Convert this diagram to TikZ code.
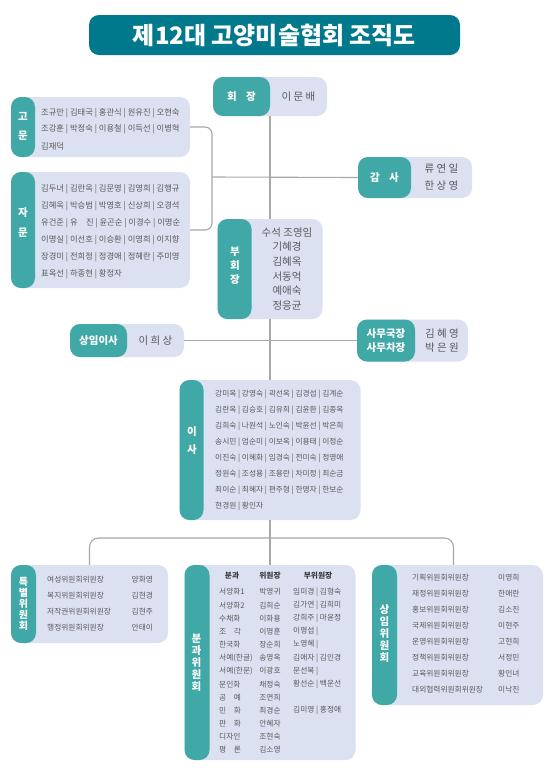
\documentclass[tikz,border=0pt]{standalone}
\usepackage{fontspec}
\setmainfont{Noto Sans CJK KR}
\usetikzlibrary{positioning}

\definecolor{titleteal}{HTML}{00798C}
\definecolor{tabteal}{HTML}{40A8A6}
\definecolor{panelblue}{HTML}{DCE1F2}
\definecolor{linegray}{HTML}{A8A8A8}
\definecolor{namegray}{HTML}{5A5A5A}
\definecolor{headgray}{HTML}{3A3A3A}

\tikzset{
  panel/.style n args={3}{fill=panelblue, rounded corners=10pt, inner sep=0pt,
    minimum width=#1, minimum height=#2,
    path picture={\fill[tabteal] (path picture bounding box.north west)
      rectangle ([xshift=#3]path picture bounding box.south west);}},
  tabtext/.style={text=white, font=\fontsize{10.5}{12}\selectfont\bfseries, align=center, inner sep=0pt},
  bigname/.style={text=namegray, font=\fontsize{10.5}{14}\selectfont, align=center, inner sep=0pt},
  list/.style={text=namegray, font=\fontsize{8.3}{9}\selectfont, anchor=west, inner sep=0pt},
  small/.style={text=namegray, font=\fontsize{7.7}{9}\selectfont, anchor=west, inner sep=0pt},
  link/.style={draw=linegray, line width=1.1pt}
}

\begin{document}
\begin{tikzpicture}[x=1pt, y=-1pt]
\useasboundingbox[fill=white] (0,0) rectangle (555,772);

\node[fill=titleteal, rounded corners=10pt, minimum width=371pt, minimum height=40pt,
  text=white, font=\fontsize{24}{26}\selectfont\bfseries] (title) at (274.5,35) {제12대 고양미술협회 조직도};

% top offices
\node[panel={114pt}{39pt}{57pt}] (hoejang) at (270,96.5) {};
\node[tabtext] at (241.5,96.5) {회\hspace{.9em}장};
\node[bigname] at (298.5,96.5) {이 문 배};

\node[panel={114pt}{41pt}{53pt}] (gamsa) at (415,177.5) {};
\node[tabtext] at (384.5,177.5) {감\hspace{.9em}사};
\node[bigname, font=\fontsize{10.5}{17}\selectfont] at (441.5,177.5) {류 연 일\\한 상 영};

\node[panel={179pt}{60pt}{24pt}] (gomun) at (100.5,127) {};
\node[tabtext, font=\fontsize{10.5}{19}\selectfont\bfseries] at (23,126.5) {고\\문};
\foreach \row [count=\i] in {조규만 | 김태국 | 홍관식 | 원유진 | 오현숙,
    조강훈 | 박정숙 | 이용철 | 이득선 | 이병혁, 김재덕}
  \node[list] at (41,{113+16.5*(\i-1)}) {\row};

\node[panel={179pt}{116pt}{24pt}] (jamun) at (100.5,230) {};
\node[tabtext, font=\fontsize{10.5}{20}\selectfont\bfseries] at (23,222) {자\\문};
\foreach \row [count=\i] in {김두녀 | 김란옥 | 김문영 | 김영희 | 김행규,
    김혜옥 | 박승범 | 박영호 | 신상희 | 오경석,
    유건준 | 유\hspace{1em}진 | 윤곤순 | 이경수 | 이명순,
    이명실 | 이선호 | 이승환 | 이영희 | 이지향,
    장경미 | 전희정 | 정경애 | 정혜란 | 주미영, 표옥선 | 하종현 | 황정자}
  \node[list] at (41,{189+17*(\i-1)}) {\row};

\node[panel={105pt}{100pt}{34pt}] (buhoe) at (270,269) {};
\node[tabtext, font=\fontsize{10.5}{14}\selectfont\bfseries] at (235,266) {부\\회\\장};
\node[bigname, font=\fontsize{10.5}{14.7}\selectfont] at (287,269) {수석 조영임\\기혜경\\김혜옥\\서동억\\예애숙\\정응균};

\node[panel={114pt}{33pt}{57pt}] (sangimisa) at (127,340.5) {};
\node[tabtext] at (98.5,340.5) {상임이사};
\node[bigname] at (155.5,340.5) {이 희 상};

\node[panel={111pt}{42pt}{58pt}] (samu) at (412.5,340.5) {};
\node[tabtext, font=\fontsize{10.5}{14}\selectfont\bfseries] at (386,340.5) {사무국장\\사무차장};
\node[bigname] at (442,340.5) {김 혜 영\\박 은 원};

% board
\node[panel={181pt}{140pt}{24pt}] (isa) at (270,450) {};
\node[tabtext, font=\fontsize{10.5}{18}\selectfont\bfseries] at (192,441) {이\\사};
\foreach \row [count=\i] in {강미옥 | 강영숙 | 곽선옥 | 김경섭 | 김계순,
    김란옥 | 김승호 | 김유희 | 김윤환 | 김종옥,
    김희숙 | 나원석 | 노인숙 | 박윤선 | 박은희,
    송시민 | 엄순미 | 이보옥 | 이용태 | 이정순,
    이진숙 | 이혜화 | 임경숙 | 전미숙 | 정영애,
    정원숙 | 조성용 | 조용란 | 차미정 | 최순금,
    최이순 | 최혜자 | 편주형 | 한명자 | 한보순, 현경원 | 황인자}
  \node[small] at (215,{394+16*(\i-1)}) {\row};

% committees
\node[panel={157pt}{78pt}{25pt}] (tukbyeol) at (89.5,604) {};
\node[tabtext, font=\fontsize{10}{11}\selectfont\bfseries] at (23.5,604) {특\\별\\위\\원\\회};
\foreach \post/\who [count=\i] in {여성위원회위원장/양화영, 복지위원회위원장/김현경,
    저작권위원회위원장/김현주, 행정위원회위원장/안태이} {
  \node[small] at (47,{580+16*(\i-1)}) {\post};
  \node[small] at (131.5,{580+16*(\i-1)}) {\who};
}

\node[panel={171pt}{195pt}{25pt}] (bungwa) at (270,662.5) {};
\node[tabtext, font=\fontsize{10.5}{12}\selectfont\bfseries] at (196.5,662.5) {분\\과\\위\\원\\회};
\node[text=headgray, font=\fontsize{7.7}{9}\selectfont\bfseries, inner sep=0pt] at (232,576) {분과};
\node[text=headgray, font=\fontsize{7.7}{9}\selectfont\bfseries, inner sep=0pt] at (270,576) {위원장};
\node[text=headgray, font=\fontsize{7.7}{9}\selectfont\bfseries, inner sep=0pt] at (318,576) {부위원장};
\foreach \part/\chair/\vice [count=\i] in {서양화1/박영귀/임미경 | 김형숙,
    서양화2/김희순/김가연 | 김희미, 수채화/이화용/강희주 | 마윤정,
    조\hspace{1em}각/이명훈/이명섭 |, 한국화/장순희/노영혜 |,
    서예(한글)/송영옥/김애자 | 김인경, 서예(한문)/이광호/문선복 |,
    문인화/채정숙/황선순 | 백운선, 공\hspace{1em}예/조연희/{},
    민\hspace{1em}화/최경순/김미영 | 홍정애, 판\hspace{1em}화/안혜자/{},
    디자인/조현숙/{}, 평\hspace{1em}론/김소영/{}} {
  \node[small] at (219,{592+13.17*(\i-1)}) {\part};
  \node[small, anchor=center] at (270,{592+13.17*(\i-1)}) {\chair};
  \node[small] at (293,{592+13.17*(\i-1)}) {\vice};
}

\node[panel={171pt}{140pt}{25pt}] (sangimwi) at (457.5,635) {};
\node[tabtext, font=\fontsize{10.5}{12}\selectfont\bfseries] at (384.5,634) {상\\임\\위\\원\\회};
\foreach \post/\who [count=\i] in {기획위원회위원장/이영희, 재정위원회위원장/한애란,
    홍보위원회위원장/김소진, 국제위원회위원장/이현주, 운영위원회위원장/고현희,
    정책위원회위원장/서정민, 교육위원회위원장/황인녀, 대외협력위원회위원장/이낙진} {
  \node[small] at (412,{578+16*(\i-1)}) {\post};
  \node[small] at (498,{578+16*(\i-1)}) {\who};
}

% connectors
\coordinate (brk) at (212,177);
\coordinate (split) at (270,538);
\draw[link, rounded corners=7pt] (gomun.east) -| (brk) |- (jamun.east);
\draw[link] (brk) -- (gamsa.west);
\draw[link] (hoejang.south) -- (buhoe.north);
\draw[link] (buhoe.south) -- (isa.north);
\draw[link] (sangimisa.east) -- (samu.west);
\draw[link] (isa.south) -- (split);
\draw[link] (split) -- (bungwa.north);
\draw[link, rounded corners=9pt] (tukbyeol.north) |- (split) -| ([xshift=-4pt]sangimwi.north);
\end{tikzpicture}
\end{document}
